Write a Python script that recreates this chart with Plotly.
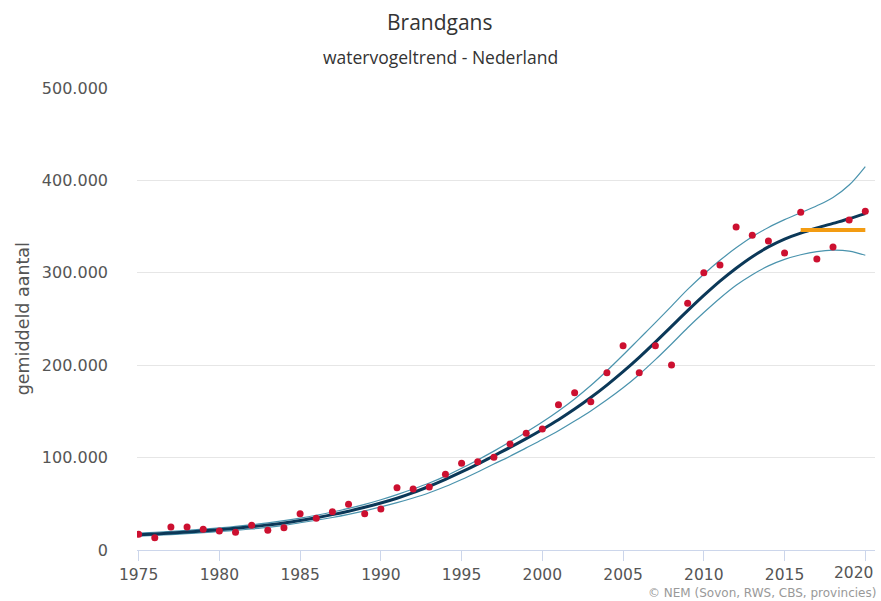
import plotly.graph_objects as go

# jaren en getelde aantallen (rode punten)
years = list(range(1975, 2021))
counts = [17000, 13300, 24900, 24900, 22400, 20600, 19100, 26700, 21300, 24200,
          39300, 34300, 41500, 49400, 39300, 44400, 67400, 66000, 68200, 81900,
          93800, 95600, 100300, 114700, 126300, 131000, 157300, 170300, 160500, 191900,
          221100, 191900, 221100, 200200, 267000, 300100, 308400, 349600, 340600, 334400,
          321400, 365400, 314900, 327900, 357100, 366500]

# trendlijn met betrouwbaarheidsband
trend = [16500, 17400, 18400, 19500, 20700, 22000, 23500, 25200, 27100, 29300,
         32000, 35000, 38300, 42000, 46200, 50800, 56000, 62000, 69000, 76500,
         84500, 93000, 102000, 111000, 120500, 130500, 141000, 152500, 165000, 178500,
         193000, 208500, 225000, 242000, 259000, 275500, 291000, 305000, 317500, 328000,
         336500, 343000, 348500, 353500, 358500, 364000]
upper = [18300, 19200, 20200, 21300, 22500, 23900, 25500, 27300, 29400, 31800,
         34500, 37600, 41100, 45000, 49400, 54400, 60000, 66000, 72500, 80000,
         88500, 97500, 107000, 117000, 127500, 138500, 150500, 163500, 178000, 194000,
         211000, 228500, 246000, 264000, 282000, 298500, 313500, 327000, 339000, 349000,
         357500, 365000, 372500, 381500, 395000, 415000]
lower = [15000, 15800, 16700, 17700, 18800, 20000, 21300, 22800, 24500, 26700,
         29500, 32200, 35200, 38600, 42400, 46600, 51200, 56300, 62000, 68700,
         76300, 84500, 93000, 101500, 110500, 119500, 129000, 139500, 150500, 162500,
         175500, 190000, 206000, 223000, 240500, 257000, 272500, 286500, 298000, 307500,
         314500, 319500, 323000, 324500, 323500, 319000]

# gemiddelde laatste 5 jaar
recent_years = [2016, 2020]
recent_mean = [346400, 346400]

x_ticks = [1975, 1980, 1985, 1990, 1995, 2000, 2005, 2010, 2015, 2020]
y_ticks = [0, 100000, 200000, 300000, 400000, 500000]

fig = go.Figure()

fig.add_trace(go.Scatter(x=years, y=upper, mode="lines", line=dict(color="#4a93ad", width=1.2),
                         line_shape="spline", hoverinfo="skip"))
fig.add_trace(go.Scatter(x=years, y=lower, mode="lines", line=dict(color="#4a93ad", width=1.2),
                         line_shape="spline", hoverinfo="skip"))
fig.add_trace(go.Scatter(x=years, y=trend, mode="lines", line=dict(color="#0b3858", width=3),
                         line_shape="spline"))
fig.add_trace(go.Scatter(x=recent_years, y=recent_mean, mode="lines",
                         line=dict(color="#f39c12", width=4)))
fig.add_trace(go.Scatter(x=years, y=counts, mode="markers",
                         marker=dict(color="#cc1030", size=7)))

font = "DejaVu Sans, sans-serif"

fig.update_layout(
    width=881, height=601,
    margin=dict(l=137, r=6, t=88, b=51),
    paper_bgcolor="white",
    plot_bgcolor="white",
    showlegend=False,
    separators=",.",
    font=dict(family=font, color="#555555", size=14),
)

fig.add_annotation(text="Brandgans", xref="paper", yref="paper", x=0.411, y=1.1429,
                   showarrow=False, yanchor="middle",
                   font=dict(size=21, color="#333333", family="Open Sans, sans-serif"))
fig.add_annotation(text="watervogeltrend - Nederland", xref="paper", yref="paper", x=0.411, y=1.0671,
                   showarrow=False, yanchor="middle",
                   font=dict(size=17.5, color="#333333", family="Open Sans, sans-serif"))
fig.add_annotation(text="gemiddeld aantal", xref="paper", yref="paper", x=-0.154, y=0.5,
                   textangle=-90, showarrow=False, xanchor="center", yanchor="middle",
                   font=dict(size=17.5, color="#555555", family=font))
fig.add_annotation(text="© NEM (Sovon, RWS, CBS, provincies)", xref="paper", yref="paper",
                   x=1.004, y=-0.0935, xanchor="right", yanchor="middle", showarrow=False,
                   font=dict(size=12, color="#999999", family=font))

# laatste jaarlabel naar binnen geschoven, zoals in het origineel
last_tick = x_ticks[-1]
fig.add_annotation(text=str(last_tick), x=last_tick, xref="x", yref="paper", y=-0.0498,
                   xshift=-12, showarrow=False, yanchor="middle",
                   font=dict(size=15.5, color="#555555", family=font))

fig.update_xaxes(
    range=[1974.9, 2020.6],
    tickvals=x_ticks,
    ticktext=[str(t) for t in x_ticks[:-1]] + [""],
    showgrid=False, zeroline=False,
    showline=True, linecolor="#ccd6eb", linewidth=1,
    ticks="outside", ticklen=10, tickcolor="#ccd6eb",
    tickfont=dict(size=15.5, color="#555555"),
)
fig.update_yaxes(
    range=[0, 500000],
    tickvals=y_ticks,
    tickformat=",",
    showgrid=True, gridcolor="#e6e6e6", gridwidth=1,
    zeroline=False, showline=False,
    ticklabelstandoff=28,
    tickfont=dict(size=16, color="#555555"),
)

# standaard body-marge van de pagina weghalen
fig.write_html("out.html", config={"displayModeBar": False},
               post_script="document.body.style.margin='0';")
